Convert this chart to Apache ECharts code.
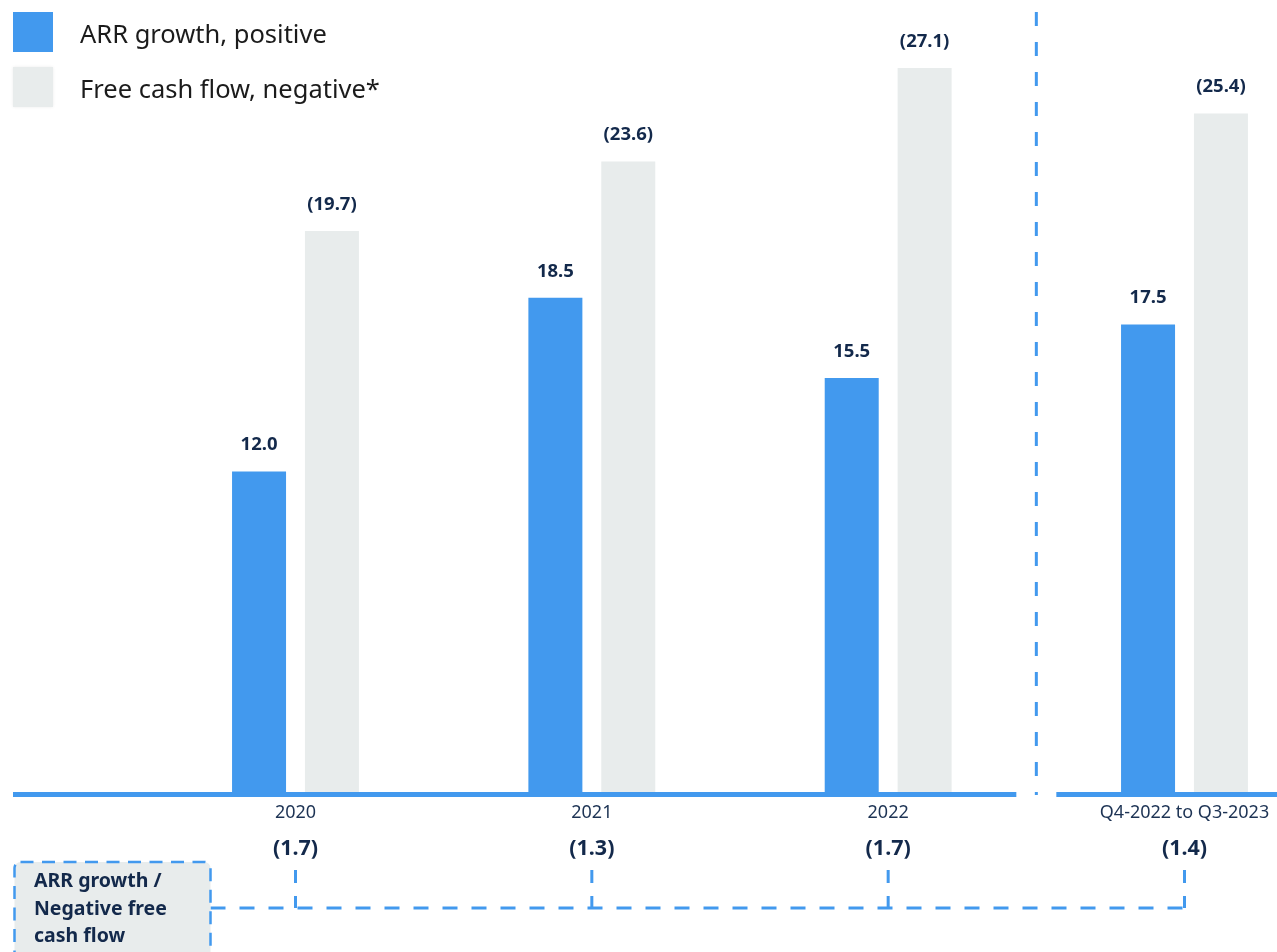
<!DOCTYPE html>
<html>
<head>
<meta charset="utf-8">
<script src="https://cdn.jsdelivr.net/npm/echarts@6/dist/echarts.min.js"></script>
<style>
  html, body { margin: 0; padding: 0; background: #ffffff; }
  #chart { width: 1277px; height: 952px; }
</style>
</head>
<body>
<div id="chart"></div>
<script>
// ---- data ----
const categories = ['2020', '2021', '2022', 'Q4-2022 to Q3-2023'];
const arrGrowth = [12.0, 18.5, 15.5, 17.5];
// free cash flow bars (height as drawn) and their printed labels
const fcfBarHeights = [21.0, 23.6, 27.1, 25.4];
const fcfLabels = ['(19.7)', '(23.6)', '(27.1)', '(25.4)'];
const ratioLabels = ['(1.7)', '(1.3)', '(1.7)', '(1.4)'];
const seriesNames = ['ARR growth, positive', 'Free cash flow, negative*'];
const boxText = 'ARR growth /\nNegative free\ncash flow';

// ---- style ----
const BLUE = '#4299ee';
const GRAY = '#e8ecec';
const NAVY = '#13294b';
const FONT = '"Noto Sans", "Open Sans", sans-serif';

const chart = echarts.init(document.getElementById('chart'), null, { renderer: 'canvas' });

const option = {
  backgroundColor: '#ffffff',
  animation: false,
  textStyle: { fontFamily: FONT },
  legend: {
    orient: 'vertical',
    left: 13,
    top: 12,
    padding: 0,
    itemWidth: 40,
    itemHeight: 40,
    itemGap: 15,
    icon: 'rect',
    data: [
      { name: seriesNames[0] },
      { name: seriesNames[1], itemStyle: { shadowBlur: 3, shadowColor: 'rgba(0,0,0,0.08)' } }
    ],
    formatter: name => '{t|' + name + '}',
    textStyle: {
      fontSize: 25.5, color: '#1b1b1b', fontFamily: FONT,
      rich: { t: { fontSize: 25.5, color: '#1b1b1b', fontFamily: FONT, padding: [7, 0, 0, 22] } }
    }
  },
  grid: { left: 295.5, right: 92.5, top: 44, bottom: 160 },
  xAxis: {
    type: 'category',
    data: categories,
    boundaryGap: false,
    axisLine: { show: false },
    axisTick: { show: false },
    splitLine: { show: false },
    axisLabel: {
      interval: 0,
      margin: 5,
      formatter: (v, i) => '{y|' + v + '}\n{r|' + ratioLabels[i] + '}',
      rich: {
        y: { fontSize: 18, color: '#1d3354', lineHeight: 32, fontFamily: FONT },
        r: { fontSize: 21.5, fontWeight: 'bold', color: NAVY, lineHeight: 40, fontFamily: FONT }
      }
    }
  },
  yAxis: {
    type: 'value',
    min: 0,
    max: 28,
    show: false,
    splitLine: { show: false }
  },
  series: [
    {
      name: seriesNames[0],
      type: 'bar',
      data: arrGrowth,
      barWidth: 54,
      barGap: '35%',
      itemStyle: { color: BLUE },
      label: {
        show: true,
        position: 'top',
        distance: 17,
        formatter: p => p.value.toFixed(1),
        fontSize: 18.5,
        fontWeight: 'bold',
        color: NAVY,
        fontFamily: FONT
      }
    },
    {
      name: seriesNames[1],
      type: 'bar',
      data: fcfBarHeights,
      barWidth: 54,
      itemStyle: { color: GRAY },
      label: {
        show: true,
        position: 'top',
        distance: 17,
        formatter: p => fcfLabels[p.dataIndex],
        fontSize: 18.5,
        fontWeight: 'bold',
        color: NAVY,
        fontFamily: FONT
      }
    }
  ]
};

chart.setOption(option);

// ---- decorations positioned from the axes ----
const xs = categories.map((c, i) => chart.convertToPixel({ xAxisIndex: 0 }, i));
const y0 = chart.convertToPixel({ yAxisIndex: 0 }, 0);
const sepX = (xs[2] + xs[3]) / 2;
const lineY = y0 + 2.5;
const bracketTop = 870;
const bracketY = 908;
const boxLeft = 14.5, boxTop = 862, boxW = 196;

const graphics = [
  { type: 'line', shape: { x1: 13, y1: lineY, x2: sepX - 20, y2: lineY }, style: { stroke: BLUE, lineWidth: 5 }, z: 10 },
  { type: 'line', shape: { x1: sepX + 20, y1: lineY, x2: 1277, y2: lineY }, style: { stroke: BLUE, lineWidth: 5 }, z: 10 },
  { type: 'line', shape: { x1: sepX, y1: 12, x2: sepX, y2: y0 + 3 }, style: { stroke: BLUE, lineWidth: 3, lineDash: [14, 16] }, z: 10 },
  { type: 'line', shape: { x1: boxLeft + boxW, y1: bracketY, x2: xs[3], y2: bracketY }, style: { stroke: BLUE, lineWidth: 3, lineDash: [15, 14] }, z: 10 },
  { type: 'rect', shape: { x: boxLeft, y: boxTop, width: boxW, height: 120, r: 6 }, style: { fill: GRAY, stroke: BLUE, lineWidth: 2.5, lineDash: [13, 8.5] }, z: 10 },
  {
    type: 'text', x: 34, y: 868, z: 11,
    style: { text: boxText, fontSize: 19.5, fontWeight: 'bold', fontFamily: FONT, fill: NAVY, lineHeight: 27.5, verticalAlign: 'top', align: 'left' }
  }
];
xs.forEach(x => {
  graphics.push({ type: 'line', shape: { x1: x, y1: bracketTop, x2: x, y2: bracketY }, style: { stroke: BLUE, lineWidth: 3, lineDash: [13, 13] }, z: 10 });
});
chart.setOption({ graphic: graphics });
</script>
</body>
</html>
